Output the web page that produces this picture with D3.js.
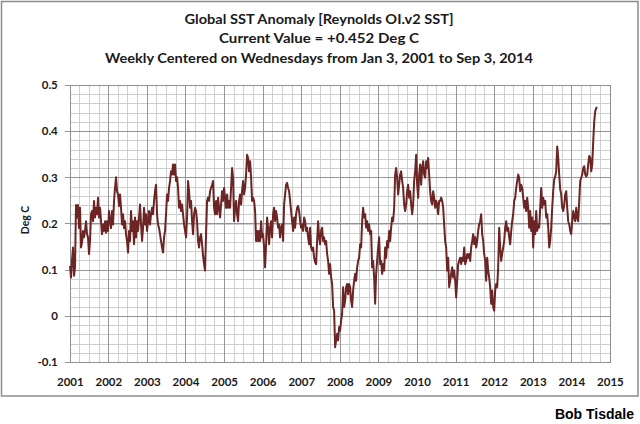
<!DOCTYPE html>
<html>
<head>
<meta charset="utf-8">
<script src="https://cdn.jsdelivr.net/npm/d3@7"></script>
<style>
  html, body { margin: 0; padding: 0; background: #fff; }
  svg { display: block; }
</style>
</head>
<body>
<script>
// ---- Data ----
const titleLines = [
  "Global SST Anomaly [Reynolds OI.v2 SST]",
  "Current Value = +0.452 Deg C",
  "Weekly Centered on Wednesdays from Jan 3, 2001 to Sep 3, 2014"
];
const yAxisTitle = "Deg C";
const credit = "Bob Tisdale";
const startDate = "2001-01-03";
const endDate = "2014-09-03";
const yTickValues = [-0.1, 0, 0.1, 0.2, 0.3, 0.4, 0.5];
const yTickLabels = ["-0.1", "0", "0.1", "0.2", "0.3", "0.4", "0.5"];
const yearLabels = ["2001","2002","2003","2004","2005","2006","2007","2008","2009","2010","2011","2012","2013","2014","2015"];
// anomaly readings (Deg C), evenly spaced in time from startDate to endDate
const anomaly = [
0.108,0.083,0.120,0.148,0.087,0.105,0.240,0.213,0.240,0.190,
0.234,0.148,0.159,0.184,0.170,0.184,0.205,0.177,0.170,0.134,
0.162,0.220,0.227,0.205,0.249,0.213,0.234,0.220,0.256,0.213,
0.234,0.205,0.177,0.198,0.184,0.205,0.180,0.205,0.184,0.227,
0.205,0.190,0.227,0.198,0.249,0.277,0.300,0.270,0.263,0.238,
0.263,
0.234,0.198,0.220,0.190,0.205,0.177,0.162,0.137,0.184,0.162,
0.227,0.184,0.205,0.155,0.213,0.170,0.205,0.184,0.213,0.241,
0.198,0.162,0.190,0.234,0.198,0.220,0.184,0.205,0.227,0.198,
0.220,0.234,0.220,0.249,0.270,0.284,0.220,0.198,0.190,0.177,
0.162,0.148,0.137,0.170,0.184,0.220,0.263,0.249,0.277,0.292,
0.313,0.306,0.328,0.306,0.328,0.292,0.300,0.277,0.234,0.249,
0.227,0.241,0.220,0.198,0.184,0.170,0.213,0.292,0.270,0.234,
0.249,0.205,0.177,0.220,0.234,0.227,0.205,0.162,0.148,
0.170,0.177,0.155,0.130,0.112,0.098,0.177,0.249,0.256,0.249,
0.270,0.277,0.284,0.292,0.234,0.220,0.249,0.220,0.256,0.234,
0.213,0.241,0.270,0.249,0.277,0.256,0.234,0.263,0.234,0.249,
0.234,0.277,0.320,0.299,0.205,0.234,0.249,0.220,0.205,0.249,
0.263,0.241,0.270,0.292,0.263,0.277,0.306,0.349,0.342,0.313,
0.335,0.299,0.249,0.256,0.249,0.227,0.162,0.184,0.162,0.184,
0.162,0.205,0.170,0.177,0.148,0.105,0.155,0.213,0.191,0.155,
0.191,0.205,0.170,0.220,0.234,0.205,0.227,0.213,0.191,0.198,
0.170,0.191,0.198,0.162,0.241,0.263,0.284,0.288,0.277,0.270,
0.249,0.227,0.205,0.184,0.213,0.191,0.220,0.234,0.238,0.227,
0.205,0.191,0.198,0.184,0.213,0.205,0.184,0.191,0.170,0.155,
0.191,0.148,0.141,0.148,0.126,0.116,0.112,0.162,0.205,0.170,
0.155,0.184,0.191,0.162,0.170,0.155,0.162,0.134,0.119,0.091,
0.112,0.083,0.069,0.019,0.011,-0.068,-0.053,-0.039,-0.053,-0.024,
-0.032,-0.010,0.004,0.062,0.019,0.033,0.062,0.069,0.047,0.069,
0.062,0.033,0.019,0.055,0.076,0.091,0.076,0.105,0.119,0.126,
0.155,0.148,0.205,0.234,0.213,0.220,0.191,0.205,0.184,0.198,
0.177,0.184,0.105,0.119,0.083,0.026,0.091,0.119,0.148,0.170,
0.112,0.119,0.091,0.112,0.098,0.148,0.126,0.162,0.148,0.184,
0.162,0.191,0.213,0.205,0.234,0.306,0.320,0.299,0.263,0.284,
0.306,0.313,0.292,0.277,0.241,0.227,0.241,0.270,0.284,0.256,
0.270,0.241,0.220,0.241,0.292,0.313,0.349,0.284,0.256,0.306,
0.328,0.284,0.320,0.335,0.306,0.299,0.335,0.320,0.342,0.306,
0.270,0.249,0.241,0.270,0.256,0.234,0.249,0.241,0.220,0.249,
0.249,0.256,0.249,0.234,0.198,0.162,0.148,0.098,0.126,0.062,
0.076,0.091,0.105,0.083,0.098,0.076,0.040,0.076,0.112,0.119,
0.126,0.112,0.126,0.119,0.148,0.112,0.119,0.134,0.126,0.134,
0.119,0.148,0.162,0.177,0.155,0.170,0.148,0.162,0.184,0.198,
0.205,0.220,0.177,0.162,0.134,0.119,0.076,0.126,0.098,0.083,
0.062,0.026,0.055,0.019,0.011,0.055,0.069,0.062,0.105,0.191,
0.148,0.119,0.134,0.148,0.162,0.191,0.205,0.184,0.191,0.170,
0.155,0.184,0.205,0.220,0.249,0.256,0.277,0.292,0.306,0.299,
0.270,0.284,0.277,0.256,0.234,0.249,0.227,0.256,0.234,0.191,
0.227,0.184,0.213,0.148,0.205,0.177,0.227,0.184,0.198,0.191,
0.234,0.277,0.234,0.256,0.241,0.249,0.213,0.220,0.191,0.148,
0.162,0.191,0.234,0.270,0.295,0.302,0.313,0.367,0.342,0.306,
0.274,0.263,0.234,0.227,0.241,0.263,0.270,0.234,0.205,0.198,
0.184,0.177,0.205,0.227,0.213,0.205,0.234,0.213,0.205,0.249,
0.292,0.299,0.306,0.320,0.324,0.306,0.302,0.306,0.328,0.346,
0.342,0.313,0.328,0.378,0.421,0.443,0.450,0.452
];

// ---- Layout ----
const W = 640, H = 424;
const plot = { left: 69.8, right: 609.9, top: 85, bottom: 362 };

const parse = d3.timeParse("%Y-%m-%d");
const t0 = parse(startDate), t1 = parse(endDate);
const n = anomaly.length;
const series = anomaly.map((v, i) => ({
  date: new Date(+t0 + (t1 - t0) * i / (n - 1)),
  v
}));

const x = d3.scaleTime()
  .domain([new Date(+yearLabels[0], 0, 1), new Date(+yearLabels[yearLabels.length - 1], 0, 1)])
  .range([plot.left, plot.right]);
const y = d3.scaleLinear()
  .domain([yTickValues[0], yTickValues[yTickValues.length - 1]])
  .range([plot.bottom, plot.top]);

const svg = d3.select("body").append("svg")
  .attr("width", W).attr("height", H)
  .attr("viewBox", `0 0 ${W} ${H}`);

svg.append("rect").attr("width", W).attr("height", H).attr("fill", "#fff");

// chart-area border
svg.append("rect")
  .attr("x", 1.5).attr("y", 1.5).attr("width", 636.5).attr("height", 394.5)
  .attr("fill", "none").attr("stroke", "#8c8c8c").attr("stroke-width", 1.5);

const grid = svg.append("g").attr("shape-rendering", "crispEdges");

// minor grid
const minorY = d3.range(0, 31).map(k => yTickValues[0] + k * 0.02);
grid.selectAll("line.minh").data(minorY).join("line")
  .attr("x1", plot.left).attr("x2", plot.right)
  .attr("y1", d => Math.round(y(d)) + 0.5).attr("y2", d => Math.round(y(d)) + 0.5)
  .attr("stroke", "#cfcfcf").attr("stroke-width", 1);
const minorX = d3.timeMonth.every(3).range(x.domain()[0], x.domain()[1]);
grid.selectAll("line.minv").data(minorX).join("line")
  .attr("y1", plot.top).attr("y2", plot.bottom)
  .attr("x1", d => Math.round(x(d)) + 0.5).attr("x2", d => Math.round(x(d)) + 0.5)
  .attr("stroke", "#cfcfcf").attr("stroke-width", 1);

// major grid
grid.selectAll("line.majh").data(yTickValues).join("line")
  .attr("x1", plot.left - 5).attr("x2", plot.right)
  .attr("y1", d => Math.round(y(d)) + 0.5).attr("y2", d => Math.round(y(d)) + 0.5)
  .attr("stroke", "#959595").attr("stroke-width", 1);
const years = yearLabels.map(s => new Date(+s, 0, 1));
grid.selectAll("line.majv").data(years).join("line")
  .attr("y1", plot.top).attr("y2", plot.bottom)
  .attr("x1", d => Math.round(x(d)) + 0.5).attr("x2", d => Math.round(x(d)) + 0.5)
  .attr("stroke", "#959595").attr("stroke-width", 1);

// plot border
grid.append("rect")
  .attr("x", Math.round(plot.left) + 0.5).attr("y", plot.top + 0.5)
  .attr("width", Math.round(plot.right) - Math.round(plot.left))
  .attr("height", plot.bottom - plot.top)
  .attr("fill", "none").attr("stroke", "#8f8f8f");

// data line
svg.append("path")
  .datum(series)
  .attr("fill", "none")
  .attr("stroke", "#6b2525")
  .attr("stroke-width", 2)
  .attr("stroke-linejoin", "round")
  .attr("d", d3.line().x(d => x(d.date)).y(d => y(d.v)));

// axes
const labelFont = "Lato, 'Open Sans', sans-serif";
const yAxis = d3.axisLeft(y).tickValues(yTickValues)
  .tickFormat((d, i) => yTickLabels[i]).tickSize(0).tickPadding(12);
const gy = svg.append("g").attr("transform", `translate(${plot.left},0)`).call(yAxis);
gy.select(".domain").remove();
gy.selectAll("text").attr("font-family", labelFont).attr("font-weight", "bold")
  .attr("font-size", 11.5).attr("fill", "#1a1a1a");

const xAxis = d3.axisBottom(x).tickValues(years)
  .tickFormat((d, i) => yearLabels[i]).tickSize(0).tickPadding(16);
const gx = svg.append("g").attr("transform", `translate(0,${plot.bottom})`).call(xAxis);
gx.select(".domain").remove();
gx.selectAll("text").attr("font-family", labelFont).attr("font-weight", "bold")
  .attr("font-size", 11.5).attr("fill", "#1a1a1a");

// y axis title
svg.append("text")
  .attr("transform", "translate(29,220) rotate(-90)")
  .attr("text-anchor", "middle")
  .attr("font-family", labelFont).attr("font-weight", "bold")
  .attr("font-size", 10.5).attr("fill", "#1a1a1a")
  .text(yAxisTitle);

// titles
const titleWidths = [269, 200, 428];
const titleY = [24, 43, 63];
svg.selectAll("text.title").data(titleLines).join("text")
  .attr("class", "title")
  .attr("x", 319).attr("y", (d, i) => titleY[i])
  .attr("text-anchor", "middle")
  .attr("font-family", labelFont).attr("font-weight", "bold")
  .attr("font-size", 14).attr("fill", "#1a1a1a")
  .attr("textLength", (d, i) => titleWidths[i])
  .attr("lengthAdjust", "spacingAndGlyphs")
  .text(d => d);

// credit
svg.append("text")
  .attr("x", 634).attr("y", 419)
  .attr("text-anchor", "end")
  .attr("font-family", "'Liberation Sans', Arial, sans-serif").attr("font-weight", "bold")
  .attr("font-size", 14).attr("fill", "#000")
  .text(credit);
</script>
</body>
</html>
